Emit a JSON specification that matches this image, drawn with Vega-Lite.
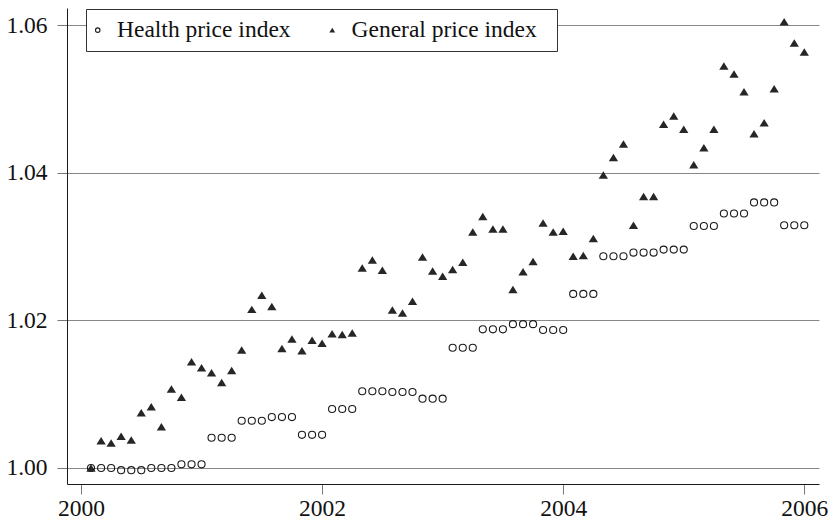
{
  "$schema": "https://vega.github.io/schema/vega-lite/v6.json",
  "width": 752,
  "height": 476,
  "autosize": {"type": "none"},
  "padding": {"left": 67, "top": 8, "right": 15, "bottom": 36},
  "background": "white",
  "config": {"view": {"stroke": null}, "font": "Liberation Serif, Times New Roman, serif"},
  "data": {"values": [
    {"t": 2000.083, "Health price index": 1.0000, "General price index": 1.0000},
    {"t": 2000.167, "Health price index": 1.0000, "General price index": 1.0037},
    {"t": 2000.250, "Health price index": 1.0000, "General price index": 1.0034},
    {"t": 2000.333, "Health price index": 0.9997, "General price index": 1.0043},
    {"t": 2000.417, "Health price index": 0.9997, "General price index": 1.0038},
    {"t": 2000.500, "Health price index": 0.9997, "General price index": 1.0075},
    {"t": 2000.583, "Health price index": 1.0000, "General price index": 1.0083},
    {"t": 2000.667, "Health price index": 1.0000, "General price index": 1.0056},
    {"t": 2000.750, "Health price index": 1.0000, "General price index": 1.0107},
    {"t": 2000.833, "Health price index": 1.0005, "General price index": 1.0096},
    {"t": 2000.917, "Health price index": 1.0005, "General price index": 1.0144},
    {"t": 2001.000, "Health price index": 1.0005, "General price index": 1.0136},
    {"t": 2001.083, "Health price index": 1.0041, "General price index": 1.0129},
    {"t": 2001.167, "Health price index": 1.0041, "General price index": 1.0116},
    {"t": 2001.250, "Health price index": 1.0041, "General price index": 1.0132},
    {"t": 2001.333, "Health price index": 1.0064, "General price index": 1.0160},
    {"t": 2001.417, "Health price index": 1.0064, "General price index": 1.0215},
    {"t": 2001.500, "Health price index": 1.0064, "General price index": 1.0234},
    {"t": 2001.583, "Health price index": 1.0069, "General price index": 1.0219},
    {"t": 2001.667, "Health price index": 1.0069, "General price index": 1.0162},
    {"t": 2001.750, "Health price index": 1.0069, "General price index": 1.0175},
    {"t": 2001.833, "Health price index": 1.0045, "General price index": 1.0159},
    {"t": 2001.917, "Health price index": 1.0045, "General price index": 1.0173},
    {"t": 2002.000, "Health price index": 1.0045, "General price index": 1.0169},
    {"t": 2002.083, "Health price index": 1.0080, "General price index": 1.0182},
    {"t": 2002.167, "Health price index": 1.0080, "General price index": 1.0181},
    {"t": 2002.250, "Health price index": 1.0080, "General price index": 1.0183},
    {"t": 2002.333, "Health price index": 1.0104, "General price index": 1.0271},
    {"t": 2002.417, "Health price index": 1.0104, "General price index": 1.0282},
    {"t": 2002.500, "Health price index": 1.0104, "General price index": 1.0268},
    {"t": 2002.583, "Health price index": 1.0103, "General price index": 1.0214},
    {"t": 2002.667, "Health price index": 1.0103, "General price index": 1.0210},
    {"t": 2002.750, "Health price index": 1.0103, "General price index": 1.0226},
    {"t": 2002.833, "Health price index": 1.0094, "General price index": 1.0286},
    {"t": 2002.917, "Health price index": 1.0094, "General price index": 1.0267},
    {"t": 2003.000, "Health price index": 1.0094, "General price index": 1.0260},
    {"t": 2003.083, "Health price index": 1.0163, "General price index": 1.0269},
    {"t": 2003.167, "Health price index": 1.0163, "General price index": 1.0279},
    {"t": 2003.250, "Health price index": 1.0163, "General price index": 1.0320},
    {"t": 2003.333, "Health price index": 1.0188, "General price index": 1.0341},
    {"t": 2003.417, "Health price index": 1.0188, "General price index": 1.0324},
    {"t": 2003.500, "Health price index": 1.0188, "General price index": 1.0324},
    {"t": 2003.583, "Health price index": 1.0195, "General price index": 1.0242},
    {"t": 2003.667, "Health price index": 1.0195, "General price index": 1.0266},
    {"t": 2003.750, "Health price index": 1.0195, "General price index": 1.0280},
    {"t": 2003.833, "Health price index": 1.0187, "General price index": 1.0332},
    {"t": 2003.917, "Health price index": 1.0187, "General price index": 1.0320},
    {"t": 2004.000, "Health price index": 1.0187, "General price index": 1.0321},
    {"t": 2004.083, "Health price index": 1.0236, "General price index": 1.0287},
    {"t": 2004.167, "Health price index": 1.0236, "General price index": 1.0288},
    {"t": 2004.250, "Health price index": 1.0236, "General price index": 1.0311},
    {"t": 2004.333, "Health price index": 1.0287, "General price index": 1.0397},
    {"t": 2004.417, "Health price index": 1.0287, "General price index": 1.0421},
    {"t": 2004.500, "Health price index": 1.0287, "General price index": 1.0439},
    {"t": 2004.583, "Health price index": 1.0292, "General price index": 1.0329},
    {"t": 2004.667, "Health price index": 1.0292, "General price index": 1.0368},
    {"t": 2004.750, "Health price index": 1.0292, "General price index": 1.0368},
    {"t": 2004.833, "Health price index": 1.0296, "General price index": 1.0466},
    {"t": 2004.917, "Health price index": 1.0296, "General price index": 1.0477},
    {"t": 2005.000, "Health price index": 1.0296, "General price index": 1.0459},
    {"t": 2005.083, "Health price index": 1.0328, "General price index": 1.0411},
    {"t": 2005.167, "Health price index": 1.0328, "General price index": 1.0434},
    {"t": 2005.250, "Health price index": 1.0328, "General price index": 1.0459},
    {"t": 2005.333, "Health price index": 1.0345, "General price index": 1.0545},
    {"t": 2005.417, "Health price index": 1.0345, "General price index": 1.0534},
    {"t": 2005.500, "Health price index": 1.0345, "General price index": 1.0510},
    {"t": 2005.583, "Health price index": 1.0360, "General price index": 1.0453},
    {"t": 2005.667, "Health price index": 1.0360, "General price index": 1.0468},
    {"t": 2005.750, "Health price index": 1.0360, "General price index": 1.0514},
    {"t": 2005.833, "Health price index": 1.0329, "General price index": 1.0605},
    {"t": 2005.917, "Health price index": 1.0329, "General price index": 1.0576},
    {"t": 2006.000, "Health price index": 1.0329, "General price index": 1.0564}
  ]},
  "transform": [
    {"fold": ["Health price index", "General price index"], "as": ["series", "value"]}
  ],
  "mark": {"type": "point", "size": 50, "strokeWidth": 1.1, "opacity": 1},
  "encoding": {
    "x": {
      "field": "t", "type": "quantitative",
      "scale": {"domain": [1999.884, 2006.122], "nice": false, "zero": false},
      "axis": {
        "values": [2000, 2002, 2004, 2006], "format": "d", "title": null, "grid": false,
        "domainColor": "#1a1a1a", "domainWidth": 1, "tickColor": "#777", "tickSize": 10, "tickWidth": 1,
        "labelFont": "Liberation Serif, Times New Roman, serif", "labelFontSize": 23.5, "labelColor": "#111",
        "labelPadding": 2, "labelFlush": false
      }
    },
    "y": {
      "field": "value", "type": "quantitative",
      "scale": {"domain": [0.99783, 1.06235], "nice": false, "zero": false},
      "axis": {
        "values": [1.00, 1.02, 1.04, 1.06], "format": ".2f", "title": null, "grid": true,
        "gridColor": "#888", "gridWidth": 1,
        "domainColor": "#1a1a1a", "domainWidth": 1, "tickColor": "#777", "tickSize": 10, "tickWidth": 1,
        "labelFont": "Liberation Serif, Times New Roman, serif", "labelFontSize": 23.5, "labelColor": "#111", "labelPadding": 10
      }
    },
    "shape": {
      "field": "series", "type": "nominal",
      "scale": {"domain": ["Health price index", "General price index"], "range": ["circle", "M0,-1.06L1.31,1.06L-1.31,1.06Z"]},
      "legend": {"title": " ", "titleOrient": "right", "titlePadding": 11, "titleFontSize": 23.5,
        "orient": "none", "legendX": 19, "legendY": 1, "direction": "horizontal",
        "strokeColor": "#333", "fillColor": "white", "padding": 9, "labelLimit": 0,
        "labelFont": "Liberation Serif, Times New Roman, serif", "labelFontSize": 23.5, "labelColor": "#111",
        "symbolSize": 20, "symbolStrokeWidth": 1.1, "symbolOffset": -9, "labelOffset": 7.5, "columnPadding": 35.5}
    },
    "fill": {
      "field": "series", "type": "nominal",
      "scale": {"domain": ["Health price index", "General price index"], "range": ["transparent", "#262626"]},
      "legend": {"title": " ", "titleOrient": "right", "titlePadding": 11, "titleFontSize": 23.5,
        "orient": "none", "legendX": 19, "legendY": 1, "direction": "horizontal",
        "strokeColor": "#333", "fillColor": "white", "padding": 9, "labelLimit": 0,
        "labelFont": "Liberation Serif, Times New Roman, serif", "labelFontSize": 23.5, "labelColor": "#111",
        "symbolSize": 20, "symbolStrokeWidth": 1.1, "symbolOffset": -9, "labelOffset": 7.5, "columnPadding": 35.5}
    },
    "stroke": {
      "field": "series", "type": "nominal",
      "scale": {"domain": ["Health price index", "General price index"], "range": ["#1a1a1a", "transparent"]},
      "legend": {"title": " ", "titleOrient": "right", "titlePadding": 11, "titleFontSize": 23.5,
        "orient": "none", "legendX": 19, "legendY": 1, "direction": "horizontal",
        "strokeColor": "#333", "fillColor": "white", "padding": 9, "labelLimit": 0,
        "labelFont": "Liberation Serif, Times New Roman, serif", "labelFontSize": 23.5, "labelColor": "#111",
        "symbolSize": 20, "symbolStrokeWidth": 1.1, "symbolOffset": -9, "labelOffset": 7.5, "columnPadding": 35.5}
    }
  }
}
